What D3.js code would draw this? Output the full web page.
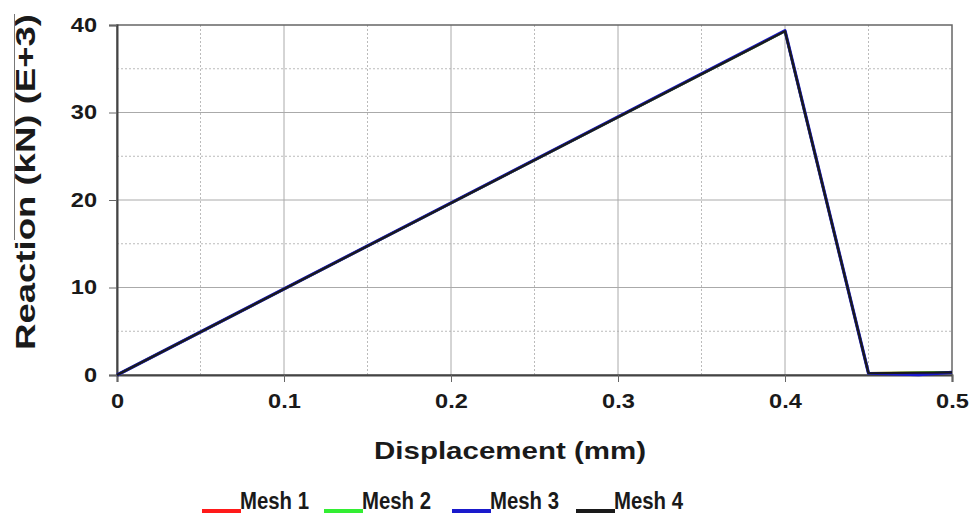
<!DOCTYPE html>
<html>
<head>
<meta charset="utf-8">
<script src="https://cdn.jsdelivr.net/npm/d3@7"></script>
<style>
  body { margin: 0; background: #fff; }
  svg text { font-family: "Liberation Sans", Arial, sans-serif; font-weight: bold; fill: #1a1a1a; }
</style>
</head>
<body>
<div id="chart"></div>
<script>
/* CONSTANTS AND GLOBALS */
const width = 970;
const height = 517;
const margin = { top: 25, right: 18, bottom: 142, left: 117 };

// DATA ######################################################
const displacement = [0, 0.4, 0.45, 0.5];
const mesh1 = [0, 39.3, 0.2, 0.3];
const mesh2 = [0, 39.3, 0.2, 0.3];
const mesh3x = [0, 0.4, 0.45, 0.48, 0.5];
const mesh3 = [0, 39.35, 0.2, 0.05, 0.3];
const mesh4 = [0, 39.3, 0.2, 0.3];

const seriesNames = ["Mesh 1", "Mesh 2", "Mesh 3", "Mesh 4"];
const seriesColors = ["#ff1a1a", "#33ee33", "#1a1acc", "#1a1a1a"];

const xTicks = [0, 0.1, 0.2, 0.3, 0.4, 0.5];
const yTicks = [0, 10, 20, 30, 40];
const xMinor = [0.05, 0.15, 0.25, 0.35, 0.45];
const yMinor = [5, 15, 25, 35];

const series = [
  { name: seriesNames[0], color: seriesColors[0], pts: displacement.map((x, i) => [x, mesh1[i]]), w: 2.6 },
  { name: seriesNames[1], color: seriesColors[1], pts: displacement.map((x, i) => [x, mesh2[i]]), w: 2.6 },
  { name: seriesNames[2], color: seriesColors[2], pts: mesh3x.map((x, i) => [x, mesh3[i]]), w: 3.2 },
  { name: seriesNames[3], color: seriesColors[3], pts: displacement.map((x, i) => [x, mesh4[i]]), w: 2.2 }
];

// SCALES ####################################################
const xScale = d3.scaleLinear()
  .domain([0, 0.5])
  .range([margin.left, width - margin.right]);

const yScale = d3.scaleLinear()
  .domain([0, 40])
  .range([height - margin.bottom, margin.top]);

const svg = d3.select("#chart")
  .append("svg")
  .attr("width", width)
  .attr("height", height);

const x0 = xScale.range()[0], x1 = xScale.range()[1];
const y0 = yScale.range()[0], y1 = yScale.range()[1];

// GRID ######################################################
svg.append("g")
  .selectAll("line")
  .data(xMinor)
  .join("line")
    .attr("x1", d => xScale(d)).attr("x2", d => xScale(d))
    .attr("y1", y1).attr("y2", y0)
    .attr("stroke", "#bbb")
    .attr("stroke-dasharray", "2,2");

svg.append("g")
  .selectAll("line")
  .data(yMinor)
  .join("line")
    .attr("x1", x0).attr("x2", x1)
    .attr("y1", d => yScale(d)).attr("y2", d => yScale(d))
    .attr("stroke", "#bbb")
    .attr("stroke-dasharray", "2,2");

svg.append("g")
  .selectAll("line")
  .data(xTicks.slice(1, -1))
  .join("line")
    .attr("x1", d => xScale(d)).attr("x2", d => xScale(d))
    .attr("y1", y1).attr("y2", y0)
    .attr("stroke", "#aaa");

svg.append("g")
  .selectAll("line")
  .data(yTicks.slice(1, -1))
  .join("line")
    .attr("x1", x0).attr("x2", x1)
    .attr("y1", d => yScale(d)).attr("y2", d => yScale(d))
    .attr("stroke", "#aaa");

// frame
svg.append("rect")
  .attr("x", x0).attr("y", y1)
  .attr("width", x1 - x0).attr("height", y0 - y1)
  .attr("fill", "none")
  .attr("stroke", "#666")
  .attr("stroke-width", 1.5);

// AXES ######################################################
const xAxis = svg.append("g")
  .attr("transform", `translate(0, ${y0})`)
  .call(d3.axisBottom(xScale).tickValues(xTicks).tickSize(7).tickPadding(12)
    .tickFormat(d => d === 0 ? "0" : d3.format(".1f")(d)));

const yAxis = svg.append("g")
  .attr("transform", `translate(${x0}, 0)`)
  .call(d3.axisLeft(yScale).tickValues(yTicks).tickSize(8).tickPadding(12));

[xAxis, yAxis].forEach(g => {
  g.select(".domain").attr("stroke", "#444").attr("stroke-width", 2);
  g.selectAll(".tick line").attr("stroke", "#666");
  g.selectAll(".tick text")
    .style("font-size", "20px")
    .attr("fill", "#1a1a1a")
    .each(function () {
      // the reference is a bit wider than the font
      const len = this.getComputedTextLength();
      d3.select(this)
        .attr("textLength", len * 1.18)
        .attr("lengthAdjust", "spacingAndGlyphs");
    });
});

// LINES #####################################################
const line = d3.line()
  .x(d => xScale(d[0]))
  .y(d => yScale(d[1]));

svg.append("g")
  .selectAll("path")
  .data(series)
  .join("path")
    .attr("d", d => line(d.pts))
    .attr("fill", "none")
    .attr("stroke", d => d.color)
    .attr("stroke-width", d => d.w)
    .attr("stroke-linejoin", "round");

// AXIS TITLES ###############################################
svg.append("text")
  .attr("x", 510)
  .attr("y", 459)
  .attr("text-anchor", "middle")
  .attr("textLength", 272)
  .attr("lengthAdjust", "spacingAndGlyphs")
  .style("font-size", "24px")
  .text("Displacement (mm)");

svg.append("text")
  .attr("transform", "translate(35, 182) rotate(-90)")
  .attr("text-anchor", "middle")
  .attr("textLength", 336)
  .attr("lengthAdjust", "spacingAndGlyphs")
  .style("font-size", "27px")
  .text("Reaction (kN) (E+3)");

// thin stray rule next to the y title
svg.append("line")
  .attr("x1", 14.5).attr("x2", 14.5)
  .attr("y1", 14).attr("y2", 240)
  .attr("stroke", "#777")
  .attr("stroke-width", 1);

// LEGEND ####################################################
const legendX = [202, 324, 452, 576];
const legend = svg.append("g")
  .selectAll("g")
  .data(series)
  .join("g")
    .attr("transform", (d, i) => `translate(${legendX[i]}, 0)`);

legend.append("line")
  .attr("x1", 0).attr("x2", 39)
  .attr("y1", 511).attr("y2", 511)
  .attr("stroke", d => d.color)
  .attr("stroke-width", 4);

legend.append("text")
  .attr("x", 38)
  .attr("y", 509)
  .attr("textLength", 69)
  .attr("lengthAdjust", "spacingAndGlyphs")
  .style("font-size", "23px")
  .text(d => d.name);
</script>
</body>
</html>
